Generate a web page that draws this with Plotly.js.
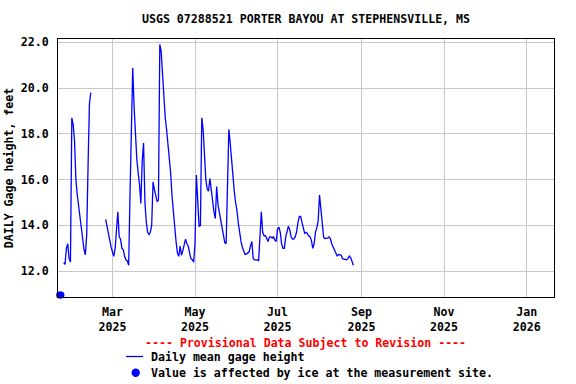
<!DOCTYPE html>
<html>
<head>
<meta charset="utf-8">
<script src="https://cdn.plot.ly/plotly-3.0.1.min.js"></script>
<style>html,body{margin:0;padding:0;background:#fff;}#chart{width:576px;height:384px;}</style>
</head>
<body>
<div id="chart"></div>
<script>
// ---- data ----
var seriesStart = '2025-01-24';   // first daily value
var gageHeight = [
  12.38, 12.3, 13.0, 13.2, 12.55, 12.4, 18.7, 18.4, 17.7, 16.0,
  15.35, 14.85, 14.3, 13.85, 13.4, 12.95, 12.72, 13.6, 16.6, 19.3,
  19.8,
  null, null, null, null, null, null, null, null, null, null,
  14.26, 13.94, 13.6, 13.4, 13.06, 12.85, 12.65, 13.0, 13.9, 14.6,
  13.5, 13.4, 13.0, 12.95, 12.65, 12.5, 12.45, 12.26, 15.4, 18.7,
  20.87, 19.2, 17.7, 16.9, 16.3, 15.8, 14.96, 16.8, 17.6, 15.0,
  14.16, 13.7, 13.6, 13.7, 14.0, 15.9, 15.57, 15.3, 15.05, 15.1,
  21.9, 21.6, 20.5, 19.3, 18.7, 18.2, 17.6, 17.1, 16.3, 15.3,
  14.5, 13.7, 13.3, 12.8, 12.65, 13.1, 12.7, 12.9, 13.1, 13.4,
  13.2, 13.1, 12.8, 12.55, 12.5, 12.4, 13.2, 16.2, 15.1, 13.95,
  14.0, 18.7, 18.2, 17.1, 16.0, 15.6, 15.5, 16.05, 15.5, 14.85,
  14.6, 14.3, 15.7, 14.9, 14.6, 14.3, 13.95, 13.7, 13.25, 13.2,
  15.4, 18.2, 17.6, 16.8, 16.1, 15.5, 15.0, 14.65, 14.1, 13.6,
  13.3, 13.05, 12.85, 12.73, 12.75, 12.8, 12.85, 13.1, 13.3, 12.55,
  12.5, 12.5, 12.5, 12.45, 13.6, 14.6, 13.7, 13.55, 13.55, 13.4,
  13.3, 13.5, 13.5, 13.45, 13.5, 13.36, 13.3, 13.85, 13.92, 13.7,
  13.2, 13.0, 13.0, 13.5, 13.8, 13.97, 13.8, 13.5, 13.4, 13.4,
  13.5, 13.7, 14.1, 14.38, 14.4, 14.1, 13.8, 13.65, 13.7, 13.65,
  13.55, 13.5, 13.35, 13.0, 13.2, 13.7, 13.9, 14.2, 15.33, 14.67,
  14.0, 13.5, 13.43, 13.43, 13.45, 13.5, 13.43, 13.2, 13.07, 12.95,
  12.8, 12.67, 12.73, 12.7, 12.7, 12.55, 12.53, 12.5, 12.5, 12.55,
  12.66, 12.6, 12.4, 12.26
];
var iceDates = ['2025-01-21', '2025-01-22'];
var iceValues = [10.96, 10.96];

var tickDates = ['2025-03-01', '2025-05-01', '2025-07-01', '2025-09-01', '2025-11-01', '2026-01-01'];
var tickLabels = ['Mar<br>2025', 'May<br>2025', 'Jul<br>2025', 'Sep<br>2025', 'Nov<br>2025', 'Jan<br>2026'];
var yTicks = [12, 14, 16, 18, 20, 22];
var yTickLabels = ['12.0', '14.0', '16.0', '18.0', '20.0', '22.0'];

var titleText = 'USGS 07288521 PORTER BAYOU AT STEPHENSVILLE, MS';
var yTitleText = 'DAILY Gage height, feet';
var provisionalText = '---- Provisional Data Subject to Revision ----';
var legendLineText = 'Daily mean gage height';
var legendIceText = 'Value is affected by ice at the measurement site.';

// ---- build dates ----
function addDays(iso, n) {
  var p = iso.split('-');
  var d = new Date(Date.UTC(+p[0], +p[1] - 1, +p[2] + n));
  return d.toISOString().slice(0, 10);
}
var gageDates = gageHeight.map(function (v, i) { return addDays(seriesStart, i); });

var FONT = {family: '"DejaVu Sans Mono", "Liberation Mono", monospace', size: 11.6, color: '#000', weight: 'bold'};

var traces = [
  {
    x: gageDates, y: gageHeight, type: 'scatter', mode: 'lines',
    line: {color: '#0000ff', width: 1.3}, connectgaps: false,
    name: legendLineText, showlegend: false, hoverinfo: 'x+y'
  },
  {
    x: iceDates, y: iceValues, type: 'scatter', mode: 'markers',
    marker: {color: '#0000ff', size: 7, symbol: 'circle'},
    cliponaxis: false, name: legendIceText, showlegend: false
  }
];

function px2x(px) { return (px - 58) / 496; }
function py2y(py) { return (297 - py) / 258; }

var layout = {
  width: 576, height: 384,
  margin: {l: 58, r: 22, t: 39, b: 87, pad: 0},
  paper_bgcolor: '#fff', plot_bgcolor: '#fff',
  font: FONT,
  showlegend: false,
  title: {text: titleText, font: FONT, x: 0.5, xref: 'paper', xanchor: 'center', y: 1 - 19 / 384, yref: 'container', yanchor: 'middle'},
  xaxis: {
    type: 'date', range: ['2025-01-19 19:00', '2026-01-21 05:00'],
    tickmode: 'array', tickvals: tickDates, ticktext: tickLabels,
    showgrid: true, gridcolor: '#c8c8c8', gridwidth: 1,
    showline: true, linecolor: '#000', linewidth: 1, mirror: true,
    ticks: '', zeroline: false, tickfont: FONT, ticklabelstandoff: 4
  },
  yaxis: {
    range: [10.875, 22.14],
    tickmode: 'array', tickvals: yTicks, ticktext: yTickLabels,
    showgrid: true, gridcolor: '#c8c8c8', gridwidth: 1,
    showline: true, linecolor: '#000', linewidth: 1, mirror: true,
    ticks: '', zeroline: false, tickfont: FONT, ticklabelstandoff: 6,
    title: {text: yTitleText, font: FONT, standoff: 4}
  },
  shapes: [
    {type: 'line', xref: 'paper', yref: 'paper', x0: px2x(126), x1: px2x(143), y0: py2y(356.5), y1: py2y(356.5), line: {color: '#0000ff', width: 1.3}},
    {type: 'circle', xref: 'paper', yref: 'paper', x0: px2x(131.5), x1: px2x(139.9), y0: py2y(368.5), y1: py2y(376.9), fillcolor: '#0000ff', line: {color: '#0000ff', width: 0}}
  ],
  annotations: [
    {text: provisionalText, xref: 'paper', yref: 'paper', x: px2x(305.4), y: py2y(342.7), xanchor: 'center', yanchor: 'middle', showarrow: false, font: {family: FONT.family, size: FONT.size, weight: 'bold', color: '#ff0000'}},
    {text: legendLineText, xref: 'paper', yref: 'paper', x: px2x(149), y: py2y(356.7), xanchor: 'left', yanchor: 'middle', showarrow: false, font: FONT},
    {text: legendIceText, xref: 'paper', yref: 'paper', x: px2x(149), y: py2y(372.5), xanchor: 'left', yanchor: 'middle', showarrow: false, font: FONT}
  ]
};

Plotly.newPlot('chart', traces, layout, {displayModeBar: false, staticPlot: true});
</script>
</body>
</html>
